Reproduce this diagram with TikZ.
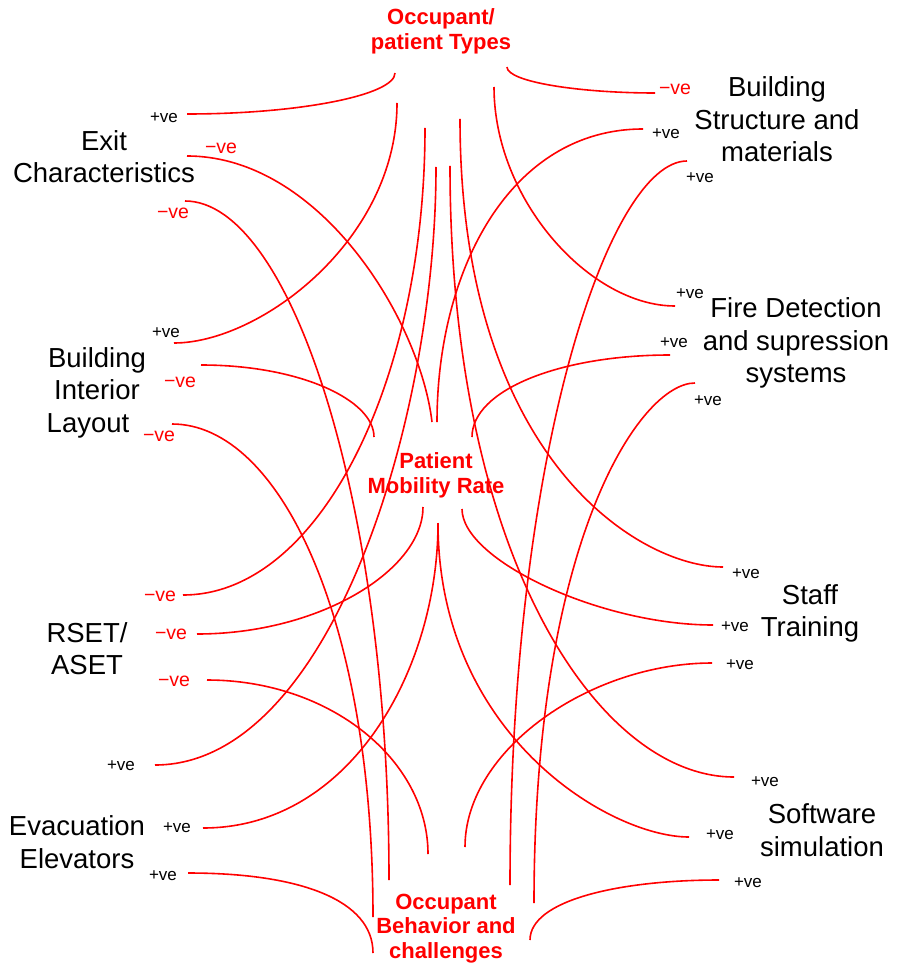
\documentclass[tikz,border=0pt]{standalone}
\usepackage{fontspec}
\setmainfont{Liberation Sans}
\begin{document}
\begin{tikzpicture}[x=1pt,y=-1pt,
  link/.style={draw=red, line width=1.6pt},
  factor/.style={font=\fontsize{27.5}{32.5}\selectfont, align=center, text=black, inner sep=0pt},
  hub/.style={font=\bfseries\fontsize{22}{24.5}\selectfont, align=center, text=red, inner sep=0pt},
  poslab/.style={font=\fontsize{17}{20}\selectfont, text=black, inner sep=0pt},
  neglab/.style={font=\fontsize{19.5}{22}\selectfont, text=red, inner sep=0pt}]
\useasboundingbox[fill=white] (0,0) rectangle (900,968);

% hubs
\node[hub] (types) at (441,31.5) {Occupant/\\patient Types};
\node[hub] (mob) at (436,475.5) {Patient\\Mobility Rate};
\node[hub] (beh) at (446,928.5) {Occupant\\Behavior and\\challenges};

% factors
\node[factor] (exit) at (104,156.5) {Exit\\Characteristics};
\node[factor] (bil) at (97,392.5) {Building\\Interior\\Layout\kern18pt};
\node[factor] (rset) at (87,648.5) {RSET/\\ASET};
\node[factor] (evac) at (77,842) {Evacuation\\Elevators};
\node[factor] (bsm) at (777,119.5) {Building\\Structure and\\materials};
\node[factor] (fds) at (796,343) {Fire Detection\\and supression\\systems};
\node[factor] (staff) at (810,613.5) {Staff\\Training};
\node[factor] (soft) at (822,830) {Software\\simulation};

% sign labels
\node[poslab] (lex1) at (164,118) {+ve};
\node[neglab] (lex2) at (221,148) {−ve};
\node[neglab] (lex3) at (173,213) {−ve};
\node[poslab] (lbi1) at (166,333) {+ve};
\node[neglab] (lbi2) at (180,382) {−ve};
\node[neglab] (lbi3) at (159,436) {−ve};
\node[neglab] (lrs1) at (160,596) {−ve};
\node[neglab] (lrs2) at (171,634) {−ve};
\node[neglab] (lrs3) at (174,681) {−ve};
\node[poslab] (lev1) at (121,766) {+ve};
\node[poslab] (lev2) at (177,828) {+ve};
\node[poslab] (lev3) at (163,876) {+ve};
\node[neglab] (lbs1) at (675,89) {−ve};
\node[poslab] (lbs2) at (666,134) {+ve};
\node[poslab] (lbs3) at (700,178) {+ve};
\node[poslab] (lfd1) at (690,294) {+ve};
\node[poslab] (lfd2) at (674,343) {+ve};
\node[poslab] (lfd3) at (708,401) {+ve};
\node[poslab] (lst1) at (746,574) {+ve};
\node[poslab] (lst2) at (735,627) {+ve};
\node[poslab] (lst3) at (740,665) {+ve};
\node[poslab] (lsw1) at (765,782) {+ve};
\node[poslab] (lsw2) at (720,835) {+ve};
\node[poslab] (lsw3) at (748,883) {+ve};

% connector ends: factor side
\coordinate (ex1) at (187,114); \coordinate (ex2) at (187,156); \coordinate (ex3) at (185,201);
\coordinate (bi1) at (174,343); \coordinate (bi2) at (201,365); \coordinate (bi3) at (172,424);
\coordinate (rs1) at (183,595); \coordinate (rs2) at (197,634); \coordinate (rs3) at (207,680);
\coordinate (ev1) at (155,765); \coordinate (ev2) at (203,828); \coordinate (ev3) at (188,873);
\coordinate (bs1) at (655,93);  \coordinate (bs2) at (643,129); \coordinate (bs3) at (687,161);
\coordinate (fd1) at (675,306); \coordinate (fd2) at (670,355); \coordinate (fd3) at (695,383);
\coordinate (st1) at (723,567); \coordinate (st2) at (713,625); \coordinate (st3) at (712,663);
\coordinate (sw1) at (734,777); \coordinate (sw2) at (689,837); \coordinate (sw3) at (719,880);
% connector ends: hub side
\coordinate (tEx) at (395,73);  \coordinate (tBi) at (397,103); \coordinate (tRs) at (425,128);
\coordinate (tEv) at (436,167); \coordinate (tSw) at (450,166); \coordinate (tSt) at (460,119);
\coordinate (tFd) at (494,87);  \coordinate (tBs) at (507,67);
\coordinate (cBi) at (374,437); \coordinate (cEx) at (432,422); \coordinate (cBs) at (437,422);
\coordinate (cFd) at (472,437); \coordinate (cRs) at (423,507); \coordinate (cEv) at (438,523);
\coordinate (cSw) at (438,523); \coordinate (cSt) at (462,509);
\coordinate (bEv) at (373,953); \coordinate (bBi) at (373,917); \coordinate (bEx) at (389,880);
\coordinate (bRs) at (428,854); \coordinate (bSt) at (465,847); \coordinate (bBs) at (510,885);
\coordinate (bFd) at (534,903); \coordinate (bSw) at (530,940);

% connectors
\draw[link] (ex1) .. controls +(113,0) and +(0,22) .. (tEx);
\draw[link] (ex2) .. controls +(133,0) and +(-12,-102) .. (cEx);
\draw[link] (ex3) .. controls +(105,0) and +(0,-380) .. (bEx);
\draw[link] (bi1) .. controls +(86,0) and +(0,137) .. (tBi);
\draw[link] (bi2) .. controls +(99,0) and +(0,-37) .. (cBi);
\draw[link] (bi3) .. controls +(108,0) and +(0,-297) .. (bBi);
\draw[link] (rs1) .. controls +(137,0) and +(0,252) .. (tRs);
\draw[link] (rs2) .. controls +(123,0) and +(0,63) .. (cRs);
\draw[link] (rs3) .. controls +(123,0) and +(0,-94) .. (bRs);
\draw[link] (ev1) .. controls +(175,0) and +(0,253) .. (tEv);
\draw[link] (ev2) .. controls +(147,0) and +(0,147) .. (cEv);
\draw[link] (ev3) .. controls +(112,0) and +(0,-53) .. (bEv);
\draw[link] (bs1) .. controls +(-75,0) and +(0,15) .. (tBs);
\draw[link] (bs2) .. controls +(-133,0) and +(0,-152) .. (cBs);
\draw[link] (bs3) .. controls +(-77,0) and +(0,-435) .. (bBs);
\draw[link] (fd1) .. controls +(-85,0) and +(0,113) .. (tFd);
\draw[link] (fd2) .. controls +(-110,0) and +(0,-47) .. (cFd);
\draw[link] (fd3) .. controls +(-55,0) and +(0,-363) .. (bFd);
\draw[link] (st1) .. controls +(-84,0) and +(0,339) .. (tSt);
\draw[link] (st2) .. controls +(-113,0) and +(0,51) .. (cSt);
\draw[link] (st3) .. controls +(-122,0) and +(0,-97) .. (bSt);
\draw[link] (sw1) .. controls +(-134,0) and +(0,394) .. (tSw);
\draw[link] (sw2) .. controls +(-79,0) and +(0,212) .. (cSw);
\draw[link] (sw3) .. controls +(-99,0) and +(0,-40) .. (bSw);
\end{tikzpicture}
\end{document}
